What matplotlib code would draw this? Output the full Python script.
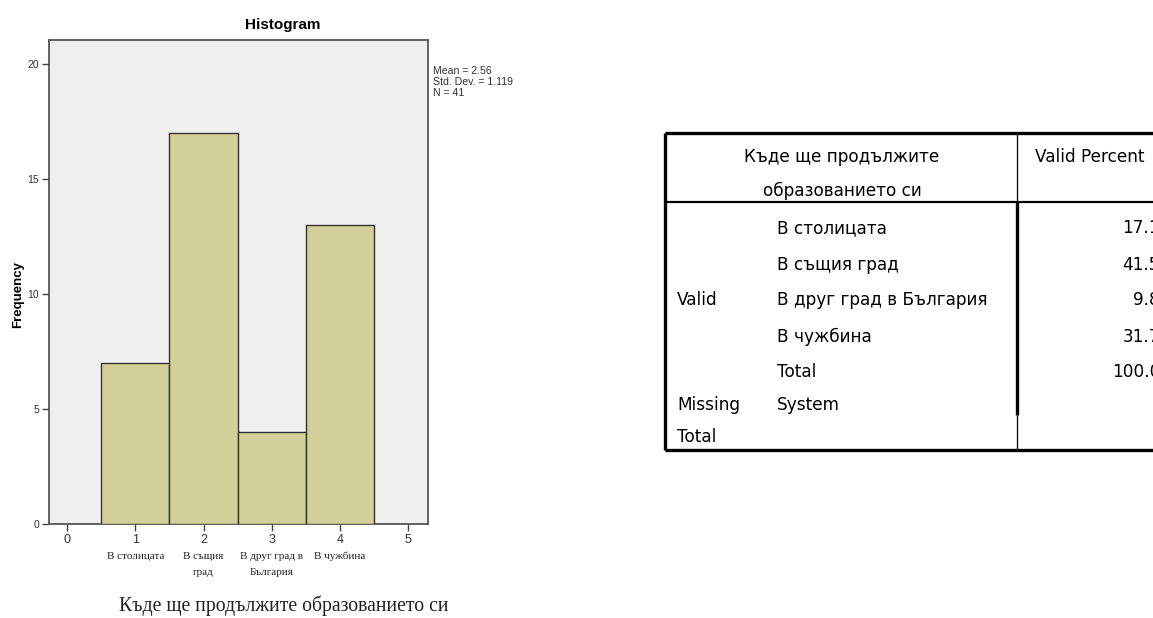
import matplotlib
matplotlib.use("Agg")
import matplotlib.pyplot as plt
from matplotlib.lines import Line2D

# ---------------- data ----------------
categories = [1, 2, 3, 4]
counts = [7, 17, 4, 13]
cat_labels = ["В столицата", "В същия\nград", "В друг град в\nБългария", "В чужбина"]
x_ticks = [0, 1, 2, 3, 4, 5]
y_ticks = [0, 5, 10, 15, 20]
stats_lines = ["Mean = 2.56", "Std. Dev. = 1.119", "N = 41"]

table_header = ["Къде ще продължите", "образованието си"]
value_header = "Valid Percent"
table_groups = ["", "", "Valid", "", "", "Missing", "Total"]
table_rows = ["В столицата", "В същия град", "В друг град в България", "В чужбина", "Total", "System", ""]
valid_percent = ["17.1", "41.5", "9.8", "31.7", "100.0", "", ""]

W, H = 1153, 618
fig = plt.figure(figsize=(W / 100, H / 100), dpi=100)
fig.patch.set_facecolor("white")

def px(x0, y0, x1, y1):
    return [x0 / W, 1 - y1 / H, (x1 - x0) / W, (y1 - y0) / H]

# ---------------- histogram ----------------
ax = fig.add_axes(px(49, 40, 428, 524))
ax.set_facecolor("#efefef")
ax.bar(categories, counts, width=1.0, color="#d3cf98", edgecolor="#333333", linewidth=1.0, zorder=3)
ax.set_xlim(-0.265, 5.29)
ax.set_ylim(0, 21.04)
ax.set_xticks(x_ticks)
ax.set_yticks(y_ticks)
ax.set_xticklabels([str(t) for t in x_ticks], family="Liberation Sans", size=9, color="#333333")
ax.set_yticklabels([str(t) for t in y_ticks], family="Liberation Sans", size=7.5, color="#333333")
ax.tick_params(axis="both", length=5, width=1, color="#444444", pad=2)
for s in ax.spines.values():
    s.set_color("#555555")
    s.set_linewidth(1.3)

# category labels under ticks
for c, lab in zip(categories, cat_labels):
    ax.annotate(lab, xy=(c, 0), xycoords="data", xytext=(0, -20), textcoords="offset points",
                ha="center", va="top", family="Liberation Serif", fontsize=8, color="#222222",
                linespacing=2.1, annotation_clip=False)

fig.text(283 / W, 1 - 25 / H, "Histogram", ha="center", va="center",
         family="Liberation Sans", fontweight="bold", fontsize=11)
fig.text(18 / W, 1 - 295 / H, "Frequency", ha="center", va="center", rotation=90,
         family="Liberation Sans", fontweight="bold", fontsize=9.5)
fig.text(284 / W, 1 - 606 / H, "Къде ще продължите образованието си", ha="center", va="center",
         family="Liberation Serif", fontsize=14.2, color="#222222")
fig.text(433 / W, 1 - 66 / H, "\n".join(stats_lines), ha="left", va="top",
         family="Liberation Sans", fontsize=7.6, color="#333333", linespacing=1.15)

# ---------------- table ----------------
tax = fig.add_axes([0, 0, 1, 1], facecolor="none")
tax.set_xlim(0, W)
tax.set_ylim(H, 0)
tax.axis("off")

L, T, B, R, D, HS = 665, 133, 450, 1160, 1017, 202
thick, thin = 2.4, 0.9
def seg(x0, y0, x1, y1, lw):
    tax.add_line(Line2D([x0, x1], [y0, y1], color="black", linewidth=lw, solid_capstyle="butt"))

seg(L, T, R, T, thick)
seg(L, B, R, B, thick)
seg(L, T, L, B, thick)
seg(L, HS, R, HS, 1.6)
seg(D, T, D, HS, thin)
seg(D, HS, D, 415, thick)
seg(D, 415, D, B, thin)

tfont = dict(family="DejaVu Sans", fontsize=12.2, color="black")
tax.text(842, 157, table_header[0], ha="center", va="center", **tfont)
tax.text(842, 191, table_header[1], ha="center", va="center", **tfont)
tax.text(1035, 157, value_header, ha="left", va="center", **tfont)

row_y = [228, 265, 300, 337, 372, 405, 437]
for y, g, r, v in zip(row_y, table_groups, table_rows, valid_percent):
    if g:
        tax.text(677, y, g, ha="left", va="center", **tfont)
    if r:
        tax.text(777, y, r, ha="left", va="center", **tfont)
    if v:
        tax.text(1160, y, v, ha="right", va="center", **tfont)

fig.savefig("out.png", dpi=100)
